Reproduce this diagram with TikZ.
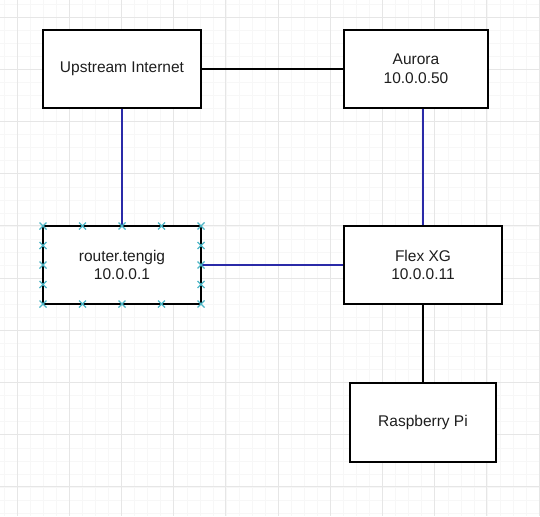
\documentclass[tikz,border=0pt]{standalone}
\usepackage{fontspec}
\setmainfont{Liberation Sans}
\usepackage{xcolor}
\usepackage{tikz}
\definecolor{gridmajor}{HTML}{E6E6E6}
\definecolor{gridminor}{HTML}{F7F7F7}
\definecolor{linkblue}{HTML}{2A2AA8}
\definecolor{handlecol}{HTML}{4DB6C6}
\definecolor{textcol}{HTML}{1E1E1E}

\begin{document}
\begin{tikzpicture}[x=1pt,y=-1pt,
    box/.style={draw=black,line width=1.7pt,fill=white,align=center,text=textcol,
                inner sep=0pt,font=\fontsize{15.5}{18.6}\selectfont},
    wire/.style={line width=1.6pt,black},
    link/.style={line width=1.6pt,linkblue},
    handle/.style={line width=1.1pt,handlecol}]
  \useasboundingbox (0,0) rectangle (540,516);
  \fill[white] (0,0) rectangle (540,516);
  % background grid
  \foreach \k in {0,...,41} {
    \draw[gridminor,line width=0.6pt] ({4.1+13.05*\k},0) -- ({4.1+13.05*\k},516);
    \draw[gridminor,line width=0.6pt] (0,{4.1+13.05*\k}) -- (540,{4.1+13.05*\k});
  }
  \foreach \k in {0,...,10} {
    \draw[gridmajor,line width=0.9pt] ({17+52.2*\k},0) -- ({17+52.2*\k},516);
    \draw[gridmajor,line width=0.9pt] (0,{17+52.2*\k}) -- (540,{17+52.2*\k});
  }

  % boxes
  \node[box,minimum width=158pt,minimum height=78pt] (inet)   at (122,69)  {Upstream Internet};
  \node[box,minimum width=144pt,minimum height=78pt] (aurora) at (416,69)  {Aurora\\10.0.0.50};
  \node[box,minimum width=158pt,minimum height=78pt] (router) at (122,265) {router.tengig\\10.0.0.1};
  \node[box,minimum width=158pt,minimum height=78pt] (flex)   at (423,265) {Flex XG\\10.0.0.11};
  \node[box,minimum width=146pt,minimum height=79pt] (pi)     at (423,422.5) {Raspberry Pi};

  % links
  \draw[wire] (inet.east) -- (aurora.west);
  \draw[link] (inet.south) -- (router.north);
  \draw[link] (flex.north |- aurora.south) -- (flex.north);
  \draw[link] (router.east) -- (flex.west);
  \draw[wire] (flex.south) -- (pi.north);

  % selection handles on router
  \foreach \x in {43,82.5,122,161.5,201}
    \foreach \y in {226,304} {
      \draw[handle] (\x-3.5,\y-3.5) -- ++(7,7) (\x-3.5,\y+3.5) -- ++(7,-7);
    }
  \foreach \y in {245.5,265,284.5}
    \foreach \x in {43,201} {
      \draw[handle] (\x-3.5,\y-3.5) -- ++(7,7) (\x-3.5,\y+3.5) -- ++(7,-7);
    }
\end{tikzpicture}
\end{document}
